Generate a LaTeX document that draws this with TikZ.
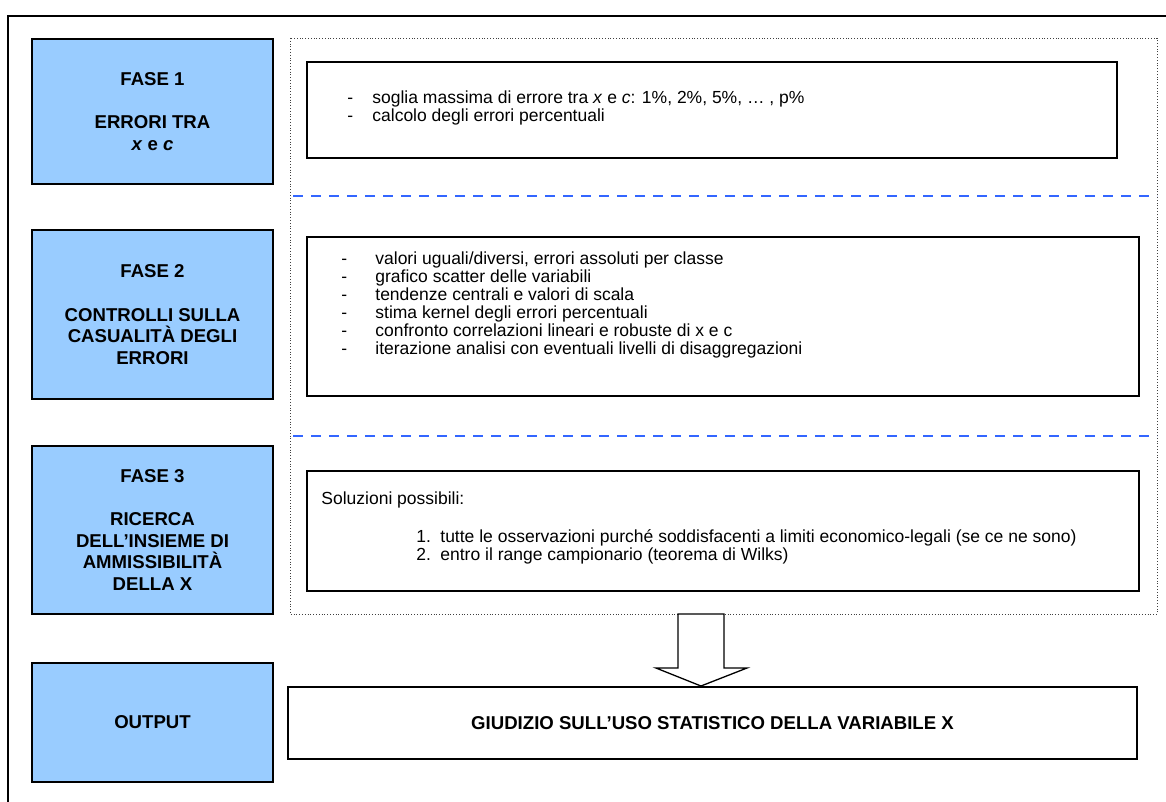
\documentclass[tikz,border=0pt]{standalone}
\usepackage{fontspec}
\setmainfont{Liberation Sans}
\usetikzlibrary{positioning}
\definecolor{phaseblue}{HTML}{99CCFF}
\definecolor{sepblue}{HTML}{3366FF}
\tikzset{
	phase/.style = {draw=black, line width=1.6pt, fill=phaseblue, align=center, inner sep=0pt, minimum width=241pt, font=\fontsize{18.6}{21.5}\selectfont\bfseries},
	panel/.style = {draw=black, line width=1.6pt, fill=white, inner sep=0pt},
	itemtext/.style = {align=left, inner sep=0pt, anchor=north west, font=\fontsize{17.5}{18}\selectfont},
	frame/.style = {line width=1.3pt},
	zone/.style = {draw=darkgray, dotted, line width=0.8pt},
	sep/.style = {sepblue, line width=2pt, dash pattern=on 10pt off 8pt},
	bigarrow/.style = {draw=black, line width=1.3pt, fill=white, line join=miter}
}
\newcommand{\dashitem}[2][34pt]{\makebox[#1][l]{-}#2}
\newcommand{\numitem}[1]{\hspace*{95pt}\makebox[24pt][l]{#1}}

\begin{document}
\begin{tikzpicture}[x=1pt, y=-1pt]
	\useasboundingbox (0,0) rectangle (1166,802);
	\draw[frame] (8,802) -- (8,16) -- (1166,16);
	% area of the three phases
	\draw[zone] (290,38) rectangle (1157,614);
	\draw[sep] (293,196) -- (1157,196);
	\draw[sep] (293,436) -- (1157,436);

	% phases on the left
	\node[phase, minimum height=145pt] (fase1) at (152.5,111.5) {FASE 1\\[22pt]ERRORI TRA\\\textit{x} e \textit{c}};
	\node[phase, minimum height=169pt] (fase2) at (152.5,314.5) {FASE 2\\[22pt]CONTROLLI SULLA\\CASUALITÀ DEGLI\\ERRORI};
	\node[phase, minimum height=168pt] (fase3) at (152.5,530) {FASE 3\\[22pt]RICERCA\\DELL’INSIEME DI\\AMMISSIBILITÀ\\DELLA X};
	\node[phase, minimum height=119pt] (output) at (152.5,722.5) {OUTPUT};

	% contents
	\node[panel, minimum width=810pt, minimum height=96pt] (panel1) at (712,110) {};
	\node[panel, minimum width=832pt, minimum height=159pt] (panel2) at (723,316.5) {};
	\node[panel, minimum width=832pt, minimum height=120pt] (panel3) at (723,531) {};
	\node[panel, minimum width=849pt, minimum height=72pt, font=\fontsize{18.6}{21.5}\selectfont\bfseries] (verdict) at (712.5,723) {GIUDIZIO SULL’USO STATISTICO DELLA VARIABILE X};

	\node[itemtext] (list1) at ([shift={(41,29)}]panel1.north west) {\dashitem[25pt]{soglia massima di errore tra \textit{x} e \textit{c}: 1\%, 2\%, 5\%, … , p\%}\\
		\dashitem[25pt]{calcolo degli errori percentuali}};
	\node[itemtext] (list2) at ([shift={(35,15)}]panel2.north west) {\dashitem{valori uguali/diversi, errori assoluti per classe}\\
		\dashitem{grafico scatter delle variabili}\\
		\dashitem{tendenze centrali e valori di scala}\\
		\dashitem{stima kernel degli errori percentuali}\\
		\dashitem{confronto correlazioni lineari e robuste di x e c}\\
		\dashitem{iterazione analisi con eventuali livelli di disaggregazioni}};
	\node[itemtext] (list3) at ([shift={(15,21)}]panel3.north west) {Soluzioni possibili:\\[20pt]
		\numitem{1.}tutte le osservazioni purché soddisfacenti a limiti economico-legali (se ce ne sono)\\
		\numitem{2.}entro il range campionario (teorema di Wilks)};

	% block arrow into the verdict
	\draw[bigarrow] (678,614) -- (678,668) -- (656,668) -- (701,686) -- (747,668) -- (724,668) -- (724,614) -- cycle;
\end{tikzpicture}
\end{document}
